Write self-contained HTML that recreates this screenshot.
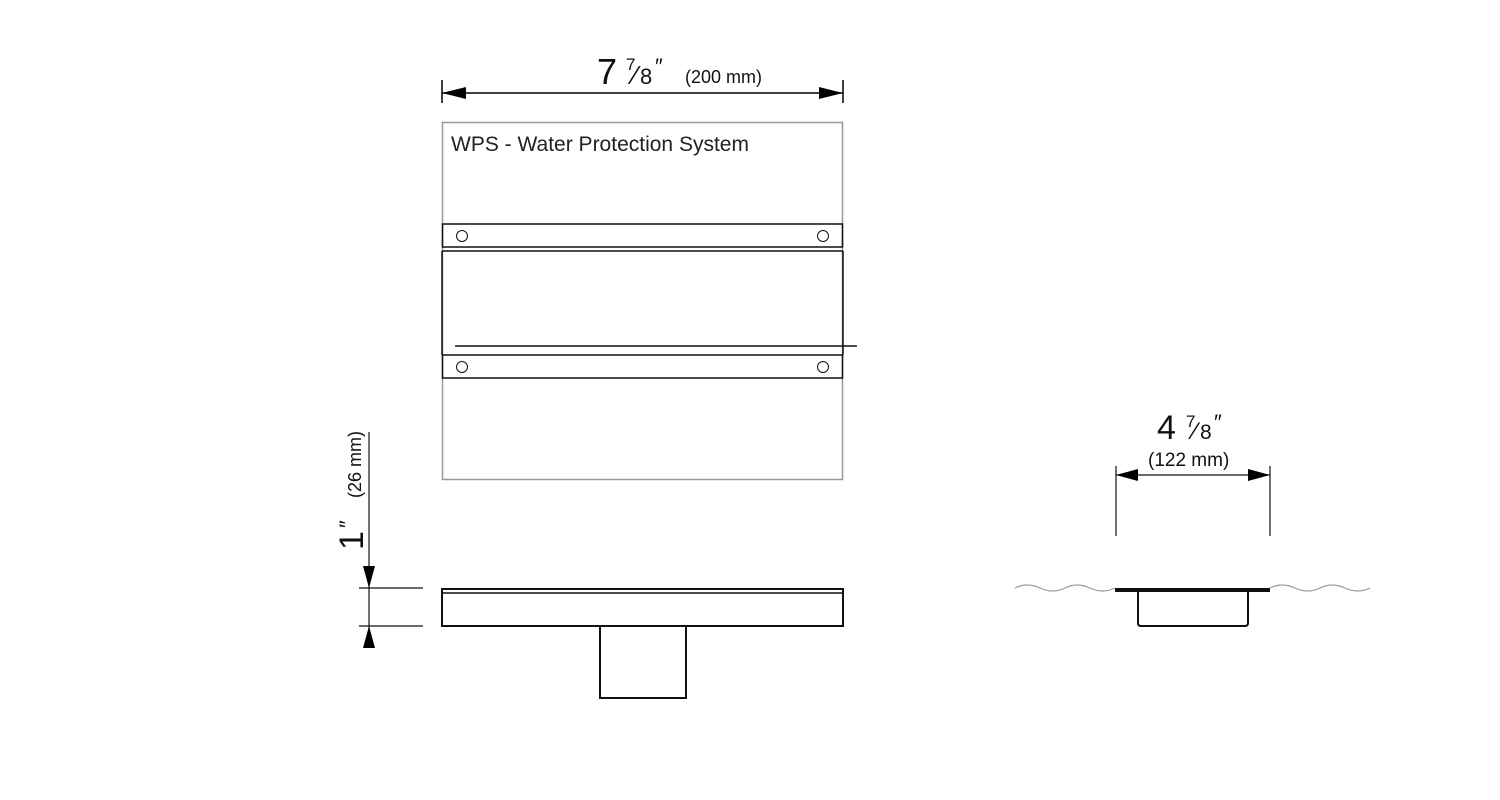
<!DOCTYPE html>
<html><head><style>html,body{margin:0;padding:0;background:#fff}svg{display:block}</style></head>
<body>
<svg width="1500" height="800" viewBox="0 0 1500 800" xmlns="http://www.w3.org/2000/svg" font-family="Liberation Sans, sans-serif">
<rect width="1500" height="800" fill="#fff"/>
<g stroke="#000" stroke-width="1.5">
<line x1="442" y1="80" x2="442" y2="103"/><line x1="843" y1="80" x2="843" y2="103"/>
<line x1="442" y1="93" x2="843" y2="93"/>
</g>
<polygon points="442,93 466,87 466,99" fill="#000"/>
<polygon points="843,93 819,87 819,99" fill="#000"/>
<text x="597" y="84" font-size="36" fill="#111">7</text>
<text x="626" y="70" font-size="17" fill="#111">7</text>
<text x="633" y="84" font-size="26" fill="#111">⁄</text>
<text x="640" y="84" font-size="22" fill="#111">8</text>
<text x="655" y="74" font-size="22" fill="#111">″</text>
<text x="685" y="83" font-size="18" fill="#111">(200 mm)</text>
<rect x="442.5" y="122.5" width="400" height="357" fill="none" stroke="#999" stroke-width="1.5"/>
<text x="451" y="151" font-size="21" fill="#222">WPS - Water Protection System</text>
<g fill="none" stroke="#111" stroke-width="1.5">
<rect x="442.5" y="224" width="400" height="23"/>
<line x1="442" y1="251" x2="843" y2="251"/>
<line x1="442" y1="251" x2="442" y2="355"/><line x1="843" y1="251" x2="843" y2="355"/>
<rect x="442.5" y="355" width="400" height="23"/>
<line x1="455" y1="346" x2="857" y2="346"/>
<circle cx="462" cy="236" r="5.5" stroke-width="1"/><circle cx="823" cy="236" r="5.5" stroke-width="1"/>
<circle cx="462" cy="367" r="5.5" stroke-width="1"/><circle cx="823" cy="367" r="5.5" stroke-width="1"/>
</g>
<g fill="none" stroke="#111" stroke-width="2">
<rect x="442" y="589" width="401" height="37"/>
<line x1="442" y1="593" x2="843" y2="593" stroke-width="1.5"/>
<rect x="600" y="626" width="86" height="72"/>
</g>
<g stroke="#111" stroke-width="1.2">
<line x1="369" y1="432" x2="369" y2="648"/>
<line x1="359" y1="588" x2="423" y2="588"/>
<line x1="359" y1="626" x2="423" y2="626"/>
</g>
<polygon points="369,588 363,566 375,566" fill="#000"/>
<polygon points="369,626 363,648 375,648" fill="#000"/>
<g transform="translate(363,550) rotate(-90)">
<text x="0" y="0" font-size="34" fill="#111">1</text>
<text x="22" y="-8" font-size="22" fill="#111">″</text>
<text x="52" y="-2" font-size="18" fill="#111">(26 mm)</text>
</g>
<g stroke="#111" stroke-width="1.2">
<line x1="1116" y1="466" x2="1116" y2="536"/>
<line x1="1270" y1="466" x2="1270" y2="536"/>
<line x1="1116" y1="475" x2="1270" y2="475"/>
</g>
<polygon points="1116,475 1138,469 1138,481" fill="#000"/>
<polygon points="1270,475 1248,469 1248,481" fill="#000"/>
<text x="1157" y="439" font-size="34" fill="#111">4</text>
<text x="1186" y="427" font-size="17" fill="#111">7</text>
<text x="1193" y="439" font-size="24" fill="#111">⁄</text>
<text x="1200" y="439" font-size="21" fill="#111">8</text>
<text x="1214" y="430" font-size="22" fill="#111">″</text>
<text x="1148" y="466" font-size="19" fill="#111">(122 mm)</text>
<path d="M1015 588 q12 -6 25 0 t25 0 t25 0 t25 0" fill="none" stroke="#999" stroke-width="1.2"/>
<path d="M1270 588 q12 -6 25 0 t25 0 t25 0 t25 0" fill="none" stroke="#999" stroke-width="1.2"/>
<rect x="1115" y="588" width="155" height="4" fill="#111"/>
<path d="M1138 592 V623 q0 3 3 3 H1245 q3 0 3 -3 V592" fill="none" stroke="#111" stroke-width="2"/>
</svg>
</body></html>
